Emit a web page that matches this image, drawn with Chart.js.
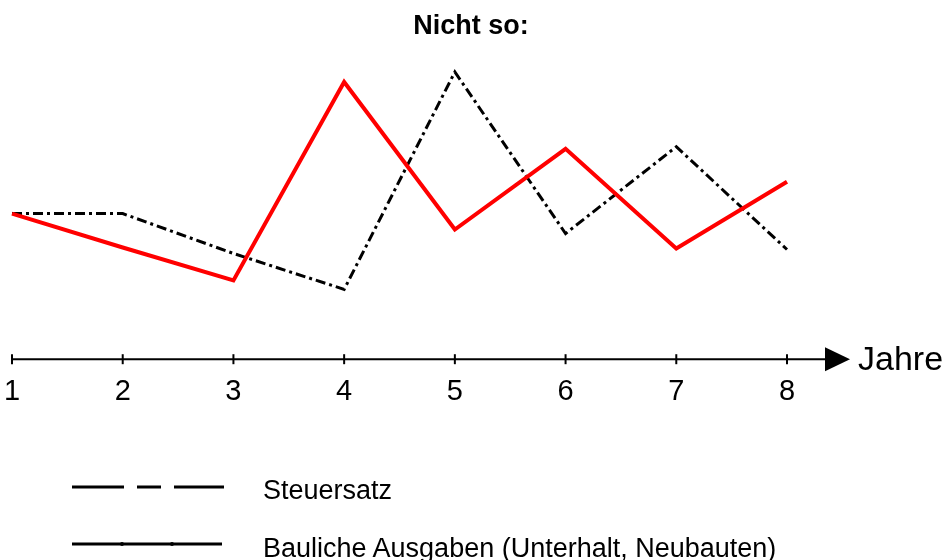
<!DOCTYPE html>
<html>
<head>
<meta charset="utf-8">
<script src="https://cdn.jsdelivr.net/npm/chart.js@4/dist/chart.umd.min.js"></script>
<style>
  html, body { margin: 0; padding: 0; background: #fff; }
  #wrap { position: relative; width: 945px; height: 560px; overflow: hidden; }
  #c { position: absolute; left: 0; top: 0; }
  .leg { position: absolute; font-family: "Liberation Sans", Arial, sans-serif; font-size: 27px; color: #000; white-space: nowrap; line-height: 1; }
  .sample { position: absolute; }
</style>
</head>
<body>
<div id="wrap">
  <canvas id="c" width="945" height="560"></canvas>
  <svg class="sample" style="left:0;top:0" width="945" height="560">
    <line x1="72" y1="487" x2="224" y2="487" stroke="#000" stroke-width="3" stroke-dasharray="52 13 24 13 52"></line>
    <line x1="72" y1="544" x2="222" y2="544" stroke="#000" stroke-width="3"></line>
    <circle cx="122" cy="544" r="2" fill="#000"></circle>
    <circle cx="172" cy="544" r="2" fill="#000"></circle>
  </svg>
  <div class="leg" id="leg1" style="left:263px;top:477px">Steuersatz</div>
  <div class="leg" id="leg2" style="left:263px;top:535px">Bauliche Ausgaben (Unterhalt, Neubauten)</div>
</div>
<script>
const chartTitle = 'Nicht so:';
const axisLabel = 'Jahre';
const years = ['1', '2', '3', '4', '5', '6', '7', '8'];
const baulicheAusgaben = [14.6, 11.2, 7.9, 27.8, 13.0, 21.1, 11.1, 17.8];
const steuersatz = [14.6, 14.6, 10.6, 7.0, 28.8, 12.6, 21.3, 11.0];
const legendLabels = ['Steuersatz', 'Bauliche Ausgaben (Unterhalt, Neubauten)'];

const FONT = '"Liberation Sans", Arial, sans-serif';

const arrowAxis = {
  id: 'arrowAxis',
  afterDatasetsDraw(chart) {
    const ctx = chart.ctx;
    const xs = chart.scales.x;
    const y = chart.chartArea.bottom;
    ctx.save();
    ctx.strokeStyle = '#000';
    ctx.fillStyle = '#000';
    ctx.lineWidth = 2;
    ctx.beginPath();
    ctx.moveTo(chart.chartArea.left, y);
    ctx.lineTo(828, y);
    ctx.stroke();
    ctx.beginPath();
    ctx.moveTo(825, y - 12);
    ctx.lineTo(850, y);
    ctx.lineTo(825, y + 12);
    ctx.closePath();
    ctx.fill();
    years.forEach((v, i) => {
      const px = xs.getPixelForValue(i);
      ctx.beginPath();
      ctx.moveTo(px, y - 5);
      ctx.lineTo(px, y + 5);
      ctx.stroke();
    });
    ctx.font = '34px ' + FONT;
    ctx.textBaseline = 'middle';
    ctx.textAlign = 'left';
    ctx.fillText(axisLabel, 858, y + 1);
    ctx.font = 'bold 27px ' + FONT;
    ctx.textAlign = 'center';
    ctx.fillText(chartTitle, 471, 27);
    ctx.restore();
  }
};

new Chart(document.getElementById('c'), {
  type: 'line',
  data: {
    labels: years,
    datasets: [
      {
        label: legendLabels[1],
        data: baulicheAusgaben,
        borderColor: '#ff0000',
        borderWidth: 4,
        pointRadius: 0,
        tension: 0,
        fill: false
      },
      {
        label: legendLabels[0],
        data: steuersatz,
        borderColor: '#000000',
        borderWidth: 3,
        borderDash: [10, 4, 3, 4],
        pointRadius: 0,
        tension: 0,
        fill: false
      }
    ]
  },
  options: {
    responsive: false,
    animation: false,
    layout: { padding: { left: 12, right: 158, top: 60, bottom: 151 } },
    plugins: {
      legend: { display: false },
      tooltip: { enabled: false },
      title: { display: false }
    },
    scales: {
      x: {
        offset: false,
        grid: { display: true, drawOnChartArea: false, drawTicks: true, tickLength: 15, color: 'rgba(0,0,0,0)' },
        border: { display: false },
        ticks: { color: '#000', font: { family: FONT, size: 29 }, padding: 0, maxRotation: 0 }
      },
      y: {
        display: false,
        min: 0,
        max: 30
      }
    }
  },
  plugins: [arrowAxis]
});
</script>
</body>
</html>
